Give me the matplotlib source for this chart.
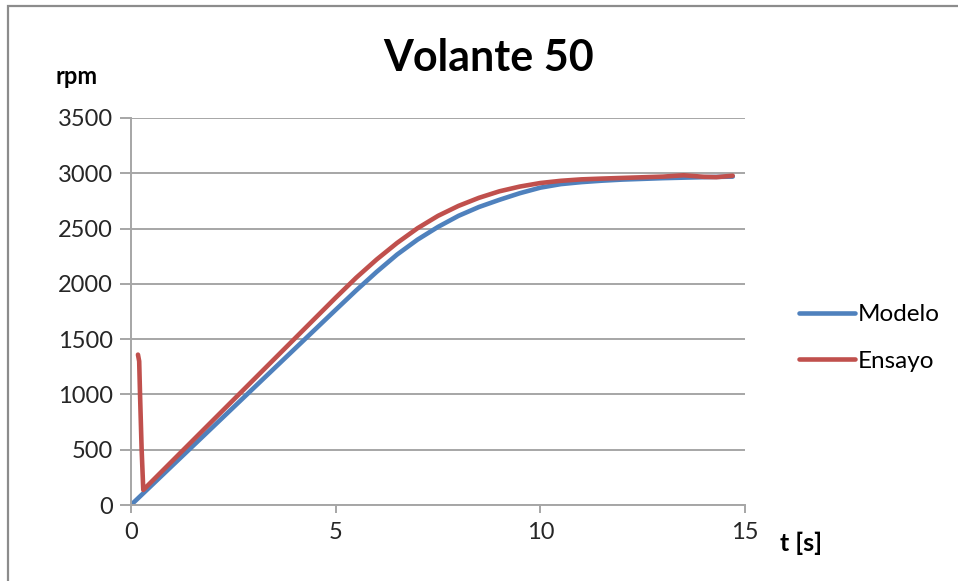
import matplotlib
matplotlib.use("Agg")
import matplotlib.pyplot as plt
from matplotlib.patches import Rectangle

plt.rcParams['font.family'] = ['Lato', 'DejaVu Sans']

# Model response (rpm vs time)
t_modelo = [0, 1, 2, 3, 4, 5, 5.5, 6, 6.5, 7, 7.5, 8, 8.5, 9, 9.5, 10, 10.5, 11, 11.5, 12, 13, 14, 14.7]
rpm_modelo = [0, 353, 706, 1059, 1412, 1765, 1940, 2108, 2265, 2400, 2515, 2615, 2695, 2760, 2820, 2870,
              2902, 2920, 2933, 2943, 2956, 2965, 2970]

# Measured response (rpm vs time)
t_ensayo = [0.17, 0.2, 0.22, 0.26, 0.3, 1, 2, 3, 4, 5, 5.5, 6, 6.5, 7, 7.5, 8, 8.5, 9, 9.5, 10,
            10.5, 11, 11.5, 12, 13, 13.5, 14, 14.3, 14.7]
rpm_ensayo = [1360, 1300, 1010, 500, 136, 395, 765, 1135, 1505, 1875, 2055, 2220, 2370, 2503, 2615, 2705,
              2778, 2837, 2880, 2912, 2932, 2945, 2952, 2958, 2970, 2982, 2968, 2965, 2978]

x_ticks = [0, 5, 10, 15]
y_ticks = [0, 500, 1000, 1500, 2000, 2500, 3000, 3500]

fig = plt.figure(figsize=(9.58, 5.81), dpi=100)
ax = fig.add_axes([131 / 958, 1 - 505 / 581, (745 - 131) / 958, (505 - 118) / 581])

ax.plot(t_modelo, rpm_modelo, color='#4F81BD', lw=3.3, label='Modelo', solid_capstyle='round',
        solid_joinstyle='round')
ax.plot(t_ensayo, rpm_ensayo, color='#C0504D', lw=3.3, label='Ensayo', solid_capstyle='round',
        solid_joinstyle='round')

ax.set_xlim(0, 15)
ax.set_ylim(0, 3500)
ax.set_xticks(x_ticks)
ax.set_yticks(y_ticks)
ax.set_xticklabels([str(v) for v in x_ticks])
ax.set_yticklabels([str(v) for v in y_ticks])

grid_c = '#A6A6A6'
ax.yaxis.grid(True, color=grid_c, lw=1.4)
ax.set_axisbelow(True)
for s in ['top', 'right']:
    ax.spines[s].set_visible(False)
for s in ['left', 'bottom']:
    ax.spines[s].set_color(grid_c)
    ax.spines[s].set_linewidth(1.4)
ax.tick_params(axis='y', length=8, width=1.4, color=grid_c, labelsize=17, labelcolor='#262626', pad=5)
ax.tick_params(axis='x', length=6, width=1.4, color=grid_c, labelsize=17, labelcolor='#262626', pad=6)

fig.text(489 / 958, 1 - 58 / 581, 'Volante 50', ha='center', va='center', fontsize=31, fontweight='bold')
fig.text(77 / 958, 1 - 76 / 581, 'rpm', ha='center', va='center', fontsize=17, fontweight='bold')
fig.text(801 / 958, 1 - 543 / 581, 't [s]', ha='center', va='center', fontsize=18, fontweight='bold')

ax.legend(loc='center left', bbox_to_anchor=(799 / 958, 1 - 338 / 581), bbox_transform=fig.transFigure,
          frameon=False, fontsize=17.5, handlelength=2.3, handletextpad=0.1, labelspacing=1.05,
          borderpad=0, borderaxespad=0)

fig.patches.append(Rectangle((8 / 958, -0.1), 2, 1.1 - 6 / 581, transform=fig.transFigure,
                             fill=False, edgecolor='#8C8C8C', lw=1.6))

fig.savefig('out.png', dpi=100, facecolor='white')
